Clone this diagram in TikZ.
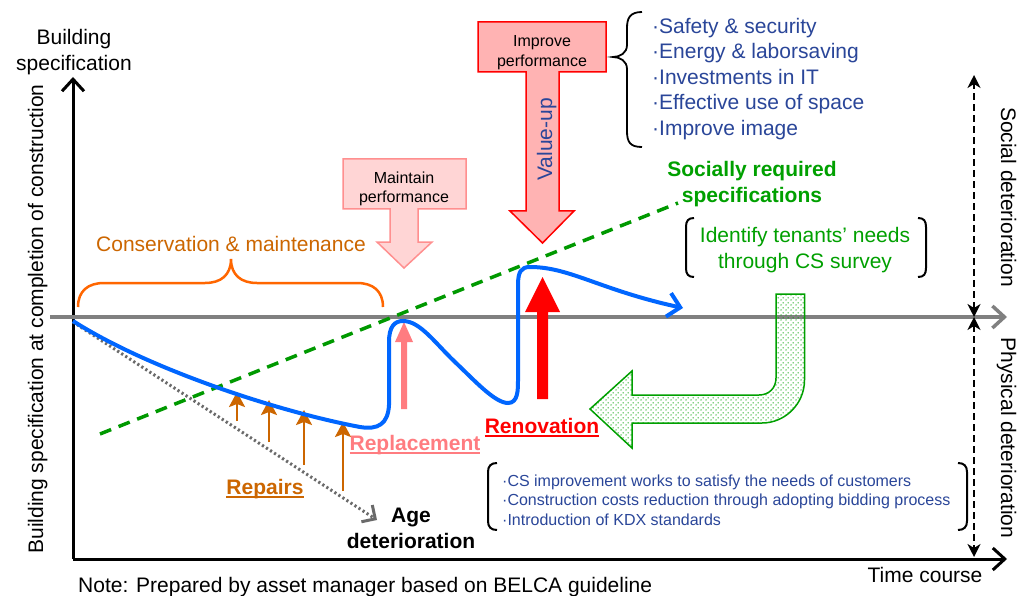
\documentclass[tikz,border=0pt]{standalone}
\usepackage{fontspec}
\setmainfont{Liberation Sans}
\usetikzlibrary{arrows.meta,patterns.meta}
\definecolor{cblue}{HTML}{0066FF}
\definecolor{corange}{HTML}{CC6600}
\definecolor{cbrace}{HTML}{FF6600}
\definecolor{cpinkarrow}{HTML}{FF7C80}
\definecolor{cmaintfill}{HTML}{FFD5D5}
\definecolor{cmaintdraw}{HTML}{FF8F8F}
\definecolor{cimpfill}{HTML}{FFB3B3}
\definecolor{cimpdraw}{HTML}{FF0000}
\definecolor{cgreen}{HTML}{00A000}
\definecolor{cgreendash}{HTML}{009900}
\definecolor{cdblue}{HTML}{2A4699}
\definecolor{cgray}{HTML}{808080}
\definecolor{cdot}{HTML}{6A6A6A}
\newcommand{\ulbox}[1]{\setbox0\hbox{#1}\leavevmode\rlap{\rule[-3.5pt]{\wd0}{1.8pt}}\box0}
\tikzdeclarepattern{
  name=gdots,
  type=uncolored,
  bottom left={(0pt,0pt)},
  top right={(5pt,5pt)},
  tile size={(5pt,5pt)},
  code={\tikzset{x=1pt,y=1pt}\fill (1.25,1.25) circle (0.8); \fill (3.75,3.75) circle (0.8);}
}
\begin{document}
\begin{tikzpicture}[x=1pt,y=-1pt,
  big/.style={font=\fontsize{21}{26}\selectfont, inner sep=0pt},
  bigbold/.style={font=\fontsize{21}{26}\selectfont\bfseries, inner sep=0pt},
  small/.style={font=\fontsize{16}{19.5}\selectfont, inner sep=0pt},
  axis/.style={line width=3pt, black, -{Straight Barb[length=12pt,width=22pt]}},
  greyaxis/.style={line width=3.5pt, cgray, -{Straight Barb[length=12pt,width=22pt]}},
  dasharrow/.style={line width=1.8pt, dash pattern=on 7pt off 4pt, {Stealth[length=13pt,width=13pt,inset=4pt]}-{Stealth[length=13pt,width=13pt,inset=4pt]}},
  repairarrow/.style={line width=2.5pt, corange, -{Stealth[length=15pt,width=16pt,inset=3pt]}},
  bracketline/.style={line width=2pt, black},
]
\useasboundingbox[fill=white] (0,0) rectangle (1033,596);

% named coordinates
\coordinate (O) at (73,559);
\coordinate (ytop) at (73,77);
\coordinate (xend) at (1007,559);
\coordinate (gstart) at (50,317);
\coordinate (gend) at (1007,317);
\coordinate (dtop) at (974,75);
\coordinate (dmid) at (974,317);
\coordinate (dbot) at (974,557);
\coordinate (cstart) at (73,321);
\coordinate (cend) at (683,308);
\coordinate (agestart) at (73,322);
\coordinate (ageend) at (377,520);
\coordinate (sstart) at (100,434);
\coordinate (send) at (678,203);

% axes
\draw[axis] (O) -- (ytop);
\draw[axis] (O) -- (xend);
\draw[greyaxis] (gstart) -- (gend);
\draw[dasharrow] (dmid) -- (dtop);
\draw[dasharrow] (dmid) -- (dbot);

% axis labels
\node[big, align=center] (ylab) at (74,52) {Building\\specification};
\node[big, rotate=90, anchor=base] (ylabel) at (43,319) {Building specification at completion of construction};
\node[big, rotate=-90, anchor=base] (social) at (1001,197) {Social deterioration};
\node[big, rotate=-90, anchor=base] (phys) at (1001,438) {Physical deterioration};
\node[big, anchor=base] (time) at (925,582.5) {Time course};
\node[big, anchor=base west] (note) at (78,592) {Note: Prepared by asset manager based on BELCA guideline};

% socially required line
\draw[cgreendash, line width=3.5pt, dash pattern=on 12pt off 8pt] (sstart) -- (send);

% age deterioration dotted line
\draw[cdot, line width=3pt, dash pattern=on 2.2pt off 2.6pt, -{Straight Barb[length=10pt,width=20pt]}] (agestart) -- (ageend);

% repairs arrows
\coordinate (r1a) at (237,421); \coordinate (r1b) at (237,392);
\coordinate (r2a) at (269,442); \coordinate (r2b) at (269,400);
\coordinate (r3a) at (304,465); \coordinate (r3b) at (304,410);
\coordinate (r4a) at (343,491); \coordinate (r4b) at (343,422);
\draw[repairarrow] (r1a) -- (r1b);
\draw[repairarrow] (r2a) -- (r2b);
\draw[repairarrow] (r3a) -- (r3b);
\draw[repairarrow] (r4a) -- (r4b);

% replacement arrow
\fill[cpinkarrow] (401,409) -- (401,342) -- (395,342) -- (404,322) -- (413,342) -- (407,342) -- (407,409) -- cycle;
% renovation arrow
\fill[red] (537,399) -- (537,312) -- (525,312) -- (542.5,277) -- (560,312) -- (548,312) -- (548,399) -- cycle;

% blue curve
\draw[cblue, line width=4pt, -{Straight Barb[length=12pt,width=24pt]}]
  (cstart) .. controls (150,370) and (280,412) .. (360,427)
  .. controls (378,430) and (388,424) .. (389,405)
  -- (389,342)
  .. controls (389,326) and (395,321) .. (403,321)
  .. controls (420,321) and (435,343) .. (455,362)
  .. controls (475,381) and (495,403) .. (508,403)
  .. controls (518,403) and (518,390) .. (518,380)
  -- (518,285)
  .. controls (518,272) and (521,267) .. (530,267)
  .. controls (570,267) and (600,290) .. (cend);

% orange brace
\draw[cbrace, line width=2.5pt] (78,307) .. controls (78,291) and (88,283) .. (104,283) -- (205,283)
  .. controls (221,283) and (231,275) .. (231,259)
  .. controls (231,275) and (241,283) .. (257,283) -- (357,283)
  .. controls (373,283) and (383,291) .. (383,307);
\node[big, anchor=base, text=corange] (cons) at (231,251.5) {Conservation \& maintenance};

% maintain performance arrow
\draw[cmaintdraw, fill=cmaintfill, line width=1.5pt] (343,159) -- (466,159) -- (466,209) -- (418,209) -- (418,242) -- (432,242) -- (404,268) -- (377,242) -- (390,242) -- (390,209) -- (343,209) -- cycle;
\node[small, align=center] (maint) at (404,189) {Maintain\\performance};

% improve performance arrow
\draw[cimpdraw, fill=cimpfill, line width=1.5pt] (478,22) -- (606,22) -- (606,72) -- (559,72) -- (559,211) -- (574,211) -- (542.5,243) -- (510,211) -- (526,211) -- (526,72) -- (478,72) -- cycle;
\node[small, align=center] (imp) at (542,52.5) {Improve\\performance};
\node[big, rotate=90, anchor=base, text=cdblue] (vu) at (552,139.5) {Value-up};

% black brace and list
\draw[line width=1.8pt, black] (642,12) .. controls (630,12) and (627,18) .. (627,28) -- (627,45)
  .. controls (627,53) and (620,57) .. (613,57)
  .. controls (620,57) and (627,61) .. (627,69) -- (627,131)
  .. controls (627,142) and (630,147) .. (642,147);
\node[big, align=left, anchor=west, text=cdblue, font=\fontsize{21}{25.5}\selectfont] (list) at (652,79)
  {·Safety \& security\\·Energy \& laborsaving\\·Investments in IT\\·Effective use of space\\·Improve image};

% green texts
\node[bigbold, align=center, text=cgreen] (socreq) at (752,184) {Socially required\\specifications};
\node[big, align=center, text=cgreen] (ident) at (805,250) {Identify tenants’ needs\\through CS survey};
\draw[bracketline] (694,218) .. controls (688,218) and (686,221) .. (686,227) -- (686,268) .. controls (686,274) and (688,277) .. (694,277);
\draw[bracketline] (918,218) .. controls (924,218) and (926,221) .. (926,227) -- (926,268) .. controls (926,274) and (924,277) .. (918,277);

% green bent arrow
\draw[cgreen, line width=1.5pt, pattern=gdots, pattern color=cgreen]
  (776,294) -- (804.5,294) -- (804.5,380)
  .. controls (804.5,404) and (785,423) .. (762,423)
  -- (632,423) -- (632,448) -- (590,409) -- (632,371) -- (632,395) -- (759,395)
  .. controls (769,395) and (776,388) .. (776,378) -- cycle;

% labels
\node[bigbold, anchor=base, text=corange] (repairs) at (265,494.5) {\ulbox{Repairs}};
\node[bigbold, anchor=base, text=cpinkarrow] (repl) at (415,450.5) {\ulbox{Replacement}};
\node[bigbold, anchor=base, text=red] (reno) at (542,433.5) {\ulbox{Renovation}};
\node[bigbold, align=center] (age) at (411,528) {Age\\deterioration};

% bottom bracket box
\draw[bracketline] (497,463) .. controls (491,463) and (488,466) .. (488,472) -- (488,521) .. controls (488,527) and (491,530) .. (497,530);
\draw[bracketline] (958,463) .. controls (964,463) and (967,466) .. (967,472) -- (967,521) .. controls (967,527) and (964,530) .. (958,530);
\node[small, align=left, anchor=west, text=cdblue] (cs) at (502,500)
  {·CS improvement works to satisfy the needs of customers\\·Construction costs reduction through adopting bidding process\\·Introduction of KDX standards};
\end{tikzpicture}
\end{document}
